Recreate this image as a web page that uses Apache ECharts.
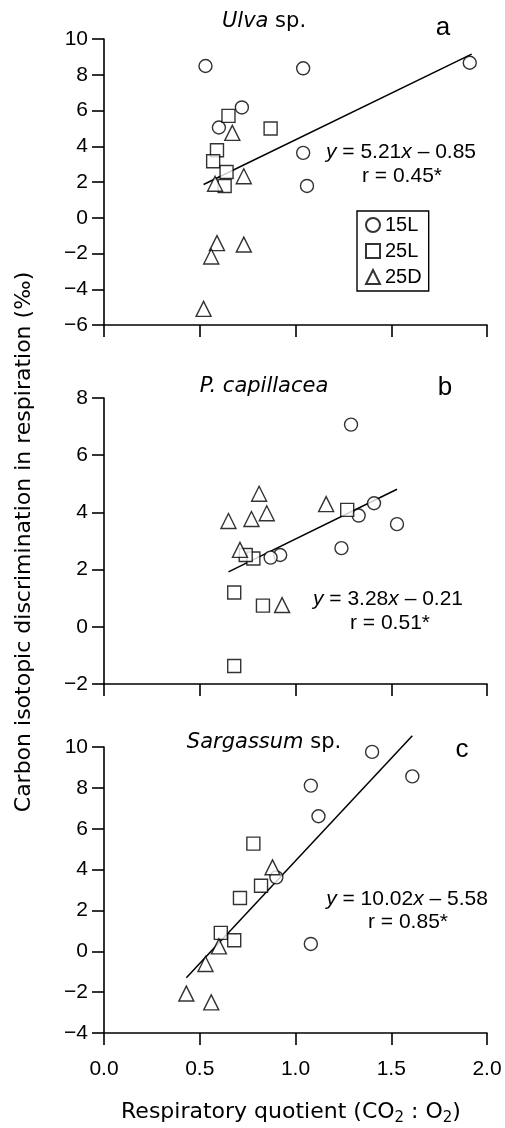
<!DOCTYPE html>
<html>
<head>
<meta charset="utf-8">
<script src="https://cdn.jsdelivr.net/npm/echarts/dist/echarts.min.js"></script>
<style>
  html, body { margin: 0; padding: 0; background: #fff; }
  #chart { width: 505px; height: 1128px; }
</style>
</head>
<body>
<div id="chart"></div>
<script>
// values: [respiratory quotient, discrimination]
const ulva15L = [[0.53, 8.49], [1.04, 8.36], [0.72, 6.17], [0.60, 5.05], [1.04, 3.63], [1.06, 1.78], [1.91, 8.67]];
const ulva25L = [[0.65, 5.70], [0.87, 4.99], [0.59, 3.78], [0.57, 3.16], [0.64, 2.56], [0.63, 1.78]];
const ulva25D = [[0.67, 4.75], [0.73, 2.32], [0.58, 1.90], [0.59, -1.42], [0.73, -1.50], [0.56, -2.17], [0.52, -5.10]];
const ulvaFit = [[0.52, 1.86], [1.92, 9.15]];

const cap15L = [[1.29, 7.07], [1.41, 4.32], [1.33, 3.89], [1.53, 3.59], [1.24, 2.75], [0.92, 2.51], [0.87, 2.42]];
const cap25L = [[1.27, 4.09], [0.78, 2.39], [0.74, 2.51], [0.68, 1.20], [0.83, 0.74], [0.68, -1.37]];
const cap25D = [[0.81, 4.65], [0.65, 3.70], [0.77, 3.77], [0.85, 3.97], [1.16, 4.29], [0.71, 2.69], [0.93, 0.76]];
const capFit = [[0.65, 1.92], [1.53, 4.81]];

const sarg15L = [[1.40, 9.76], [1.61, 8.56], [1.08, 8.11], [1.12, 6.61], [0.90, 3.62], [1.08, 0.36]];
const sarg25L = [[0.78, 5.27], [0.82, 3.21], [0.71, 2.61], [0.61, 0.90], [0.68, 0.54]];
const sarg25D = [[0.88, 4.11], [0.60, 0.24], [0.53, -0.62], [0.43, -2.07], [0.56, -2.50]];
const sargFit = [[0.43, -1.29], [1.61, 10.55]];

const groupNames = ['15L', '25L', '25D'];
const groupSymbols = ['circle', 'rect', 'triangle'];
const groupSizes = [13, 13, 15];

const panelTitles = ['{i|Ulva} sp.', '{i|P. capillacea}', '{i|Sargassum} sp.'];
const panelLetters = ['a', 'b', 'c'];
const fitEquations = ['{i|y} = 5.21{i|x} – 0.85', '{i|y} = 3.28{i|x} – 0.21', '{i|y} = 10.02{i|x} – 5.58'];
const fitR = ['r = 0.45*', 'r = 0.51*', 'r = 0.85*'];
const yRanges = [[-6, 10], [-2, 8], [-4, 10]];

const FONT = "'Liberation Sans', Arial, sans-serif";
const WIDE = "'DejaVu Sans', sans-serif";
const panelTops = [39, 398, 747];
const panelHeight = 286;

const panels = [
  [ulva15L, ulva25L, ulva25D, ulvaFit],
  [cap15L, cap25L, cap25D, capFit],
  [sarg15L, sarg25L, sarg25D, sargFit]
];

let grids = [], xAxes = [], yAxes = [], series = [], graphics = [];

panels.forEach((p, i) => {
  grids.push({ left: 104, width: 383, top: panelTops[i], height: panelHeight });
  xAxes.push({
    gridIndex: i, type: 'value', min: 0, max: 2, interval: 0.5,
    axisLine: { onZero: false, lineStyle: { color: '#000', width: 1.6 } },
    axisTick: { length: 12, lineStyle: { color: '#000', width: 1.6 } },
    axisLabel: { show: i === 2, margin: 26, color: '#000', fontSize: 21, fontFamily: FONT,
      formatter: v => v.toFixed(1) },
    splitLine: { show: false }
  });
  yAxes.push({
    gridIndex: i, type: 'value', min: yRanges[i][0], max: yRanges[i][1], interval: 2,
    axisLine: { show: true, onZero: false, lineStyle: { color: '#000', width: 1.6 } },
    axisTick: { show: true, length: 12, lineStyle: { color: '#000', width: 1.6 } },
    axisLabel: { margin: 16, color: '#000', fontSize: 21, fontFamily: FONT,
      formatter: v => (v < 0 ? '\u2212' + Math.abs(v) : '' + v) },
    splitLine: { show: false }
  });

  series.push({
    type: 'line', xAxisIndex: i, yAxisIndex: i, data: p[3], symbol: 'none', z: 1, clip: false,
    lineStyle: { color: '#000', width: 1.5 }, silent: true
  });
  for (let g = 0; g < 3; g++) {
    series.push({
      name: groupNames[g], type: 'scatter', xAxisIndex: i, yAxisIndex: i,
      data: p[g], symbol: groupSymbols[g], symbolSize: groupSizes[g], z: 2,
      itemStyle: { color: '#fff', borderColor: '#000', borderWidth: 1.4 }
    });
  }

  const rich = { i: { fontStyle: 'italic', fontSize: 21, fontFamily: FONT } };
  graphics.push({
    type: 'text', x: 264, y: [22, 387, 743][i],
    style: { text: panelTitles[i], font: '21px ' + WIDE, fill: '#000', align: 'center', verticalAlign: 'middle',
      rich: { i: { fontStyle: 'italic', fontSize: 21, fontFamily: WIDE } } }
  });
  graphics.push({
    type: 'text', x: [443, 445, 462][i], y: [28, 388, 750][i],
    style: { text: panelLetters[i], font: '26px ' + FONT, fill: '#000', align: 'center', verticalAlign: 'middle' }
  });
  graphics.push({
    type: 'text', x: [401, 388, 407][i], y: [152, 599, 899][i],
    style: { text: fitEquations[i], font: '21px ' + FONT, fill: '#000', align: 'center', verticalAlign: 'middle', rich: rich }
  });
  graphics.push({
    type: 'text', x: [402, 390, 408][i], y: [176, 623, 922][i],
    style: { text: fitR[i], font: '21px ' + FONT, fill: '#000', align: 'center', verticalAlign: 'middle' }
  });
});

graphics.push({
  type: 'text', x: 24, y: 542, rotation: Math.PI / 2,
  style: { text: 'Carbon isotopic discrimination in respiration (‰)', font: '22px ' + WIDE, fill: '#000',
    align: 'center', verticalAlign: 'middle' }
});
graphics.push({
  type: 'text', x: 291, y: 1112,
  style: { text: 'Respiratory quotient (CO{s|2} : O{s|2})', font: '22px ' + WIDE, fill: '#000',
    align: 'center', verticalAlign: 'middle',
    rich: { s: { fontSize: 15, fontFamily: WIDE, padding: [12, 0, 0, 0] } } }
});

const chart = echarts.init(document.getElementById('chart'));
chart.setOption({
  backgroundColor: '#fff',
  animation: false,
  legend: {
    data: groupNames, orient: 'vertical', left: 357, top: 211,
    borderColor: '#000', borderWidth: 1.4, borderRadius: 0,
    padding: [4, 7, 4, 8], itemWidth: 14, itemHeight: 14, itemGap: 6, itemTextGap: 5,
    textStyle: { color: '#000', fontSize: 20, fontFamily: FONT }
  },
  grid: grids,
  xAxis: xAxes,
  yAxis: yAxes,
  series: series,
  graphic: graphics
});
</script>
</body>
</html>
